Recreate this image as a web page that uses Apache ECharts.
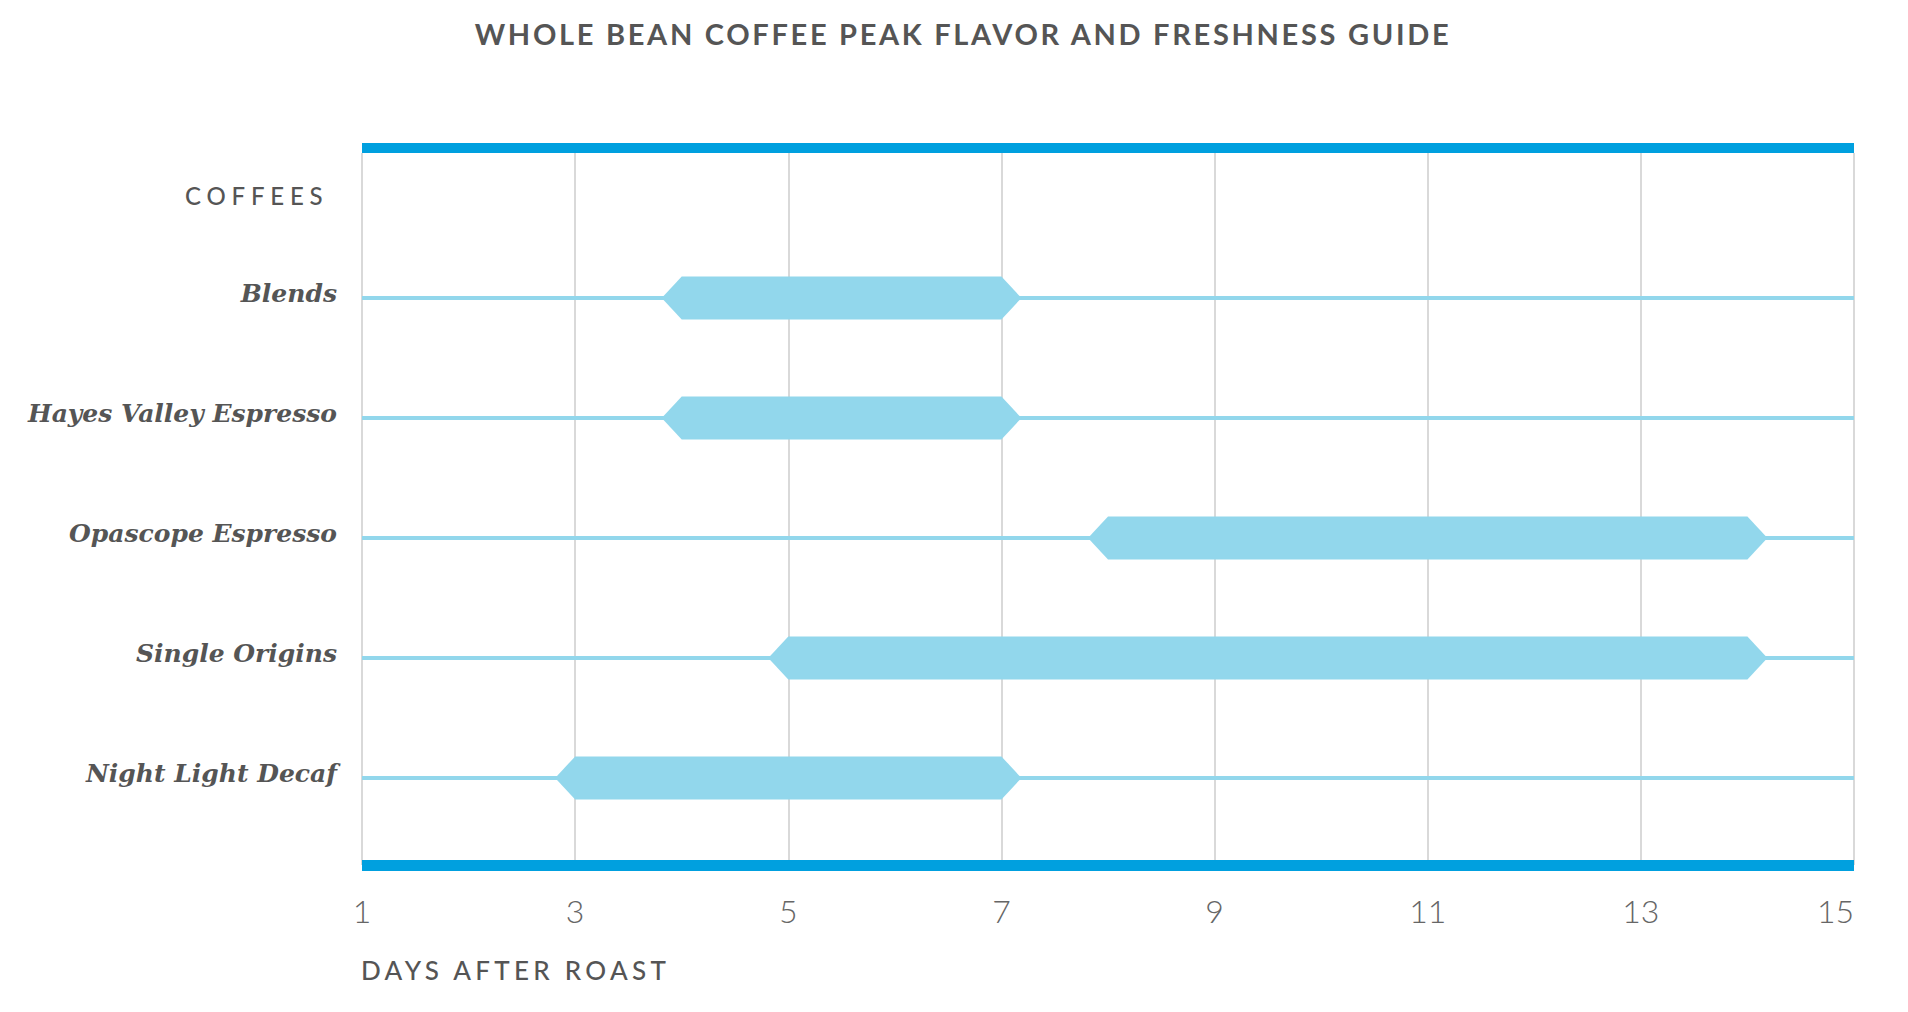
<!DOCTYPE html>
<html>
<head>
<meta charset="utf-8">
<script src="https://cdn.jsdelivr.net/npm/echarts@6/dist/echarts.min.js"></script>
<style>
  html, body { margin: 0; padding: 0; background: #fff; }
  #chart { width: 1908px; height: 1012px; }
</style>
</head>
<body>
<div id="chart"></div>
<script>
// ---- data ----
const coffees = ['Blends', 'Hayes Valley Espresso', 'Opascope Espresso', 'Single Origins', 'Night Light Decaf'];
const peakStart = [4, 4, 8, 5, 3];
const peakEnd = [7, 7, 14, 14, 7];
const dayTicks = [1, 3, 5, 7, 9, 11, 13, 15];

const titleText = 'WHOLE BEAN COFFEE PEAK FLAVOR AND FRESHNESS GUIDE';
const yTitle = 'COFFEES';
const xTitle = 'DAYS AFTER ROAST';

const xMin = dayTicks[0], xMax = dayTicks[dayTicks.length - 1];
const xInterval = dayTicks[1] - dayTicks[0];

const BAR = '#92d7ec';
const BAND = '#00a0df';
const TEXT = '#555555';

const seriesData = coffees.map((c, i) => [peakStart[i], peakEnd[i], i]);

function renderItem(params, api) {
  const s = api.value(0), e = api.value(1), row = api.value(2);
  const p0 = api.coord([s, row]);
  const p1 = api.coord([e, row]);
  const a = api.coord([xMin, row]);
  const b = api.coord([xMax, row]);
  const h = api.size([0, 1])[1] * 0.36;
  const tip = 20;
  const cy = p0[1];
  return {
    type: 'group',
    children: [
      { type: 'line', shape: { x1: a[0], y1: cy, x2: b[0], y2: cy }, style: { stroke: BAR, lineWidth: 4 } },
      { type: 'polygon', shape: { points: [
          [p0[0] - tip, cy], [p0[0], cy - h / 2], [p1[0], cy - h / 2],
          [p1[0] + tip, cy], [p1[0], cy + h / 2], [p0[0], cy + h / 2]
        ] }, style: { fill: BAR } }
    ]
  };
}

const gridLeft = 362, gridRight = 54;

const option = {
  animation: false,
  backgroundColor: '#ffffff',
  graphic: [
    { type: 'text', x: 963, y: 19, style: { text: titleText, fill: TEXT, font: 'bold 29px Lato', textAlign: 'center', textVerticalAlign: 'top' } },
    { type: 'text', x: 185, y: 183, style: { text: yTitle, fill: TEXT, font: '500 24px Lato', textVerticalAlign: 'top' } },
    { type: 'text', x: 361, y: 957, style: { text: xTitle, fill: TEXT, font: '500 26px Lato', textVerticalAlign: 'top' } }
  ],
  grid: [
    { left: gridLeft, right: gridRight, top: 153, bottom: 147 },
    { left: gridLeft, right: gridRight, top: 238, height: 600 }
  ],
  xAxis: [
    {
      gridIndex: 0, type: 'value', position: 'bottom', min: xMin, max: xMax, interval: xInterval,
      offset: 5.5,
      axisLine: { show: true, lineStyle: { color: BAND, width: 11, cap: 'butt' } },
      axisTick: { show: false },
      axisLabel: { color: '#666', fontFamily: 'Lato', fontWeight: 300, fontSize: 32, margin: 24, alignMaxLabel: 'right' },
      splitLine: { show: true, lineStyle: { color: '#cccccc', width: 1.5 } }
    },
    {
      gridIndex: 0, type: 'value', position: 'top', min: xMin, max: xMax, interval: xInterval,
      offset: 5,
      axisLine: { show: true, lineStyle: { color: BAND, width: 10, cap: 'butt' } },
      axisTick: { show: false }, axisLabel: { show: false }, splitLine: { show: false }
    },
    {
      gridIndex: 1, type: 'value', min: xMin, max: xMax, interval: xInterval,
      axisLine: { show: false }, axisTick: { show: false }, axisLabel: { show: false }, splitLine: { show: false }
    }
  ],
  yAxis: [
    { gridIndex: 0, type: 'value', min: 0, max: 1, axisLine: { show: false }, axisTick: { show: false }, axisLabel: { show: false }, splitLine: { show: false } },
    {
      gridIndex: 1, type: 'category', data: coffees, inverse: true,
      axisLine: { show: false }, axisTick: { show: false }, splitLine: { show: false },
      axisLabel: { color: TEXT, fontFamily: 'DejaVu Serif', fontStyle: 'italic', fontWeight: 'bold', fontSize: 25, margin: 25, verticalAlign: 'bottom', lineHeight: 10 }
    }
  ],
  series: [{
    type: 'custom',
    xAxisIndex: 2, yAxisIndex: 1,
    renderItem: renderItem,
    encode: { x: [0, 1], y: 2 },
    data: seriesData,
    clip: false
  }]
};

const dom = document.getElementById('chart');
const chart = echarts.init(dom, null, { renderer: 'svg' });
chart.setOption(option);

const spacing = {};
spacing[titleText] = '2.7px';
spacing[yTitle] = '5.8px';
spacing[xTitle] = '4.3px';
function applySpacing() {
  dom.querySelectorAll('text').forEach(t => {
    const s = t.textContent;
    if (spacing[s] != null) t.setAttribute('letter-spacing', spacing[s]);
  });
}
applySpacing();
chart.on('finished', applySpacing);
</script>
</body>
</html>
